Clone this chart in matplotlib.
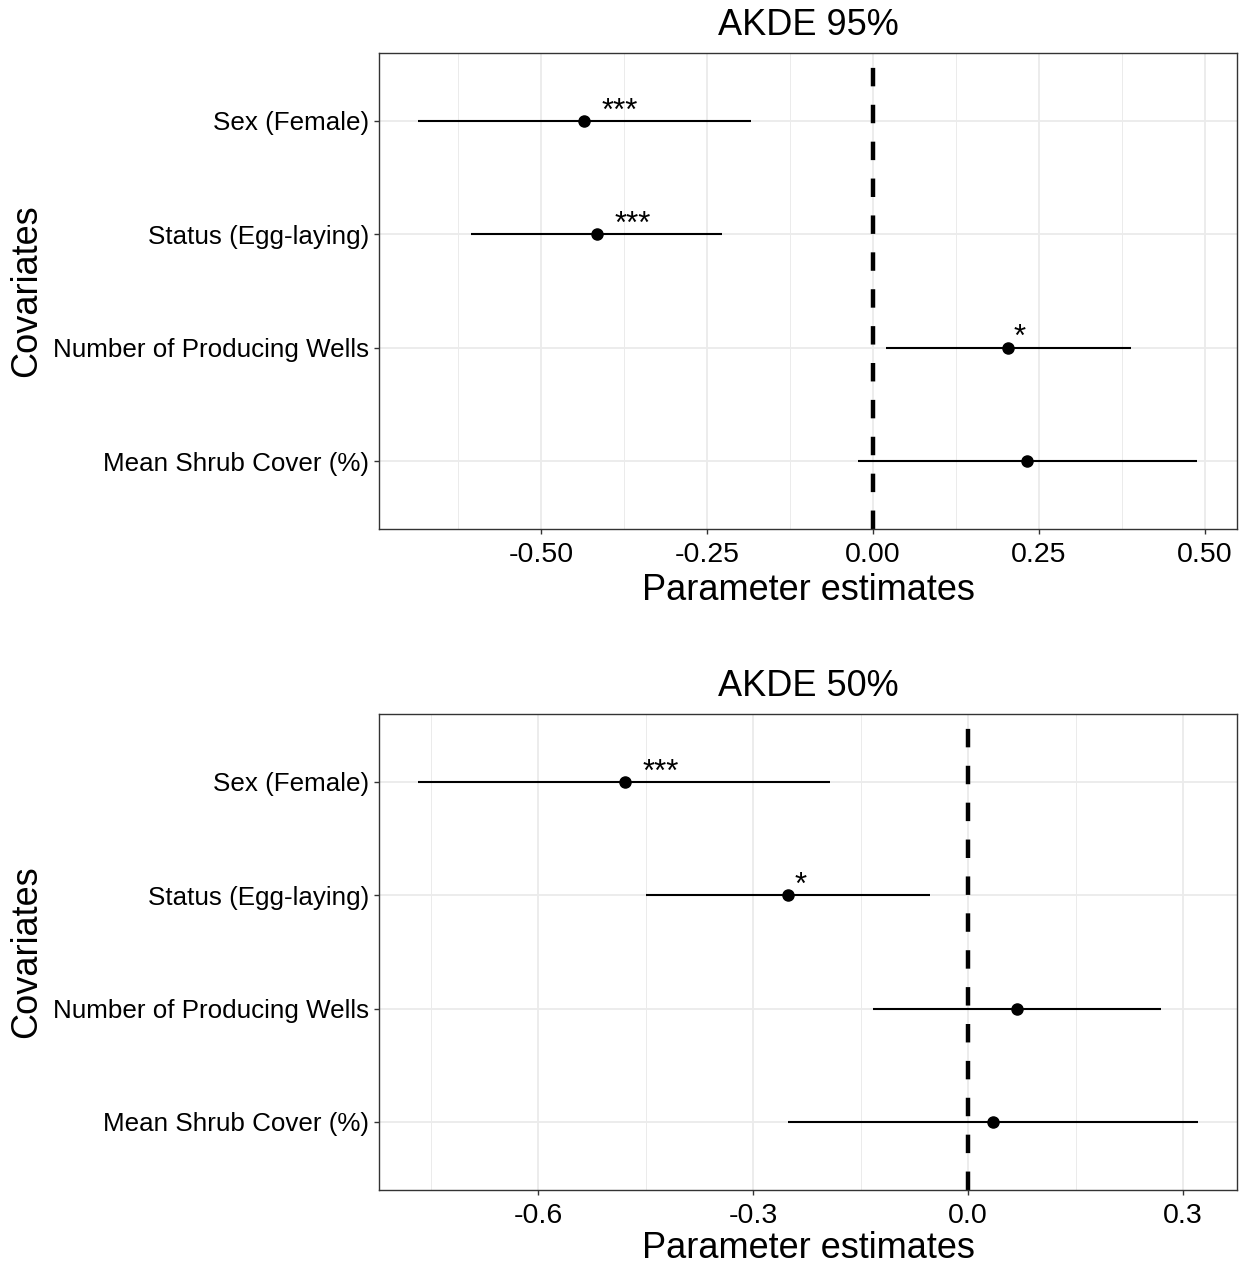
import matplotlib
matplotlib.use("Agg")
import matplotlib.pyplot as plt
import numpy as np

plt.rcParams['font.family'] = ['Liberation Sans', 'DejaVu Sans']

covariates = ["Sex (Female)", "Status (Egg-laying)", "Number of Producing Wells", "Mean Shrub Cover (%)"]

# AKDE 95%
est95 = [-0.435, -0.416, 0.203, 0.232]
lo95 = [-0.685, -0.605, 0.020, -0.023]
hi95 = [-0.184, -0.227, 0.389, 0.488]
sig95 = ["***", "***", "*", ""]
ticks95 = [-0.50, -0.25, 0.00, 0.25, 0.50]
ticklabels95 = ["-0.50", "-0.25", "0.00", "0.25", "0.50"]
minor95 = [-0.625, -0.375, -0.125, 0.125, 0.375]
xlim95 = (-0.744, 0.548)

# AKDE 50%
est50 = [-0.479, -0.251, 0.068, 0.035]
lo50 = [-0.767, -0.449, -0.133, -0.251]
hi50 = [-0.193, -0.053, 0.269, 0.320]
sig50 = ["***", "*", "", ""]
ticks50 = [-0.6, -0.3, 0.0, 0.3]
ticklabels50 = ["-0.6", "-0.3", "0.0", "0.3"]
minor50 = [-0.75, -0.45, -0.15, 0.15]
xlim50 = (-0.822, 0.375)

W, H = 1244, 1266
fig = plt.figure(figsize=(W / 100, H / 100), dpi=100)

def make_axes(top, bottom, left=379, right=1237):
    return fig.add_axes([left / W, 1 - bottom / H, (right - left) / W, (bottom - top) / H])

def panel(ax, title, est, lo, hi, sig, ticks, ticklabels, minor, xlim, xlabelpad):
    y = np.arange(1, len(covariates) + 1)
    ax.set_xlim(*xlim)
    ax.set_ylim(len(covariates) + 0.6, 0.4)
    ax.set_xticks(ticks)
    ax.set_xticklabels(ticklabels)
    ax.set_xticks(minor, minor=True)
    ax.set_yticks(y)
    ax.set_yticklabels(covariates)
    ax.grid(True, which='major', color='#EBEBEB', lw=1.3, zorder=0)
    ax.grid(True, which='minor', axis='x', color='#EBEBEB', lw=0.7, zorder=0)
    ax.set_axisbelow(True)
    ax.tick_params(axis='x', which='minor', length=0)
    ax.tick_params(axis='both', which='major', length=3.6, width=1.0, color='#333333')
    ax.tick_params(axis='x', labelsize=20.5, pad=5.5, labelcolor='black')
    ax.tick_params(axis='y', labelsize=18.7, pad=3.6, labelcolor='black')
    for s in ax.spines.values():
        s.set_color('#333333')
        s.set_linewidth(1.0)
    ax.axvline(0, color='black', lw=3.2, ls=(0, (4.15, 4.15)), zorder=2)
    ax.hlines(y, lo, hi, color='black', lw=1.5, zorder=3)
    ax.plot(est, y, 'o', color='black', ms=8, zorder=4)
    for xi, yi, s in zip(est, y, sig):
        if s:
            ax.annotate(s, xy=(xi, yi), xytext=(4.2 * len(s), 1), textcoords='offset points',
                        ha='left', va='baseline', fontsize=22.5, color='black', zorder=5)
    ax.set_title(title, fontsize=26, pad=13)
    ax.set_xlabel("Parameter estimates", fontsize=26, labelpad=xlabelpad)
    ax.set_ylabel("Covariates", fontsize=26, labelpad=6)

ax1 = make_axes(53, 529)
panel(ax1, "AKDE 95%", est95, lo95, hi95, sig95, ticks95, ticklabels95, minor95, xlim95, 4)
ax2 = make_axes(714, 1190)
panel(ax2, "AKDE 50%", est50, lo50, hi50, sig50, ticks50, ticklabels50, minor50, xlim50, 1.5)

fig.savefig("out.png", dpi=100, facecolor='white')
